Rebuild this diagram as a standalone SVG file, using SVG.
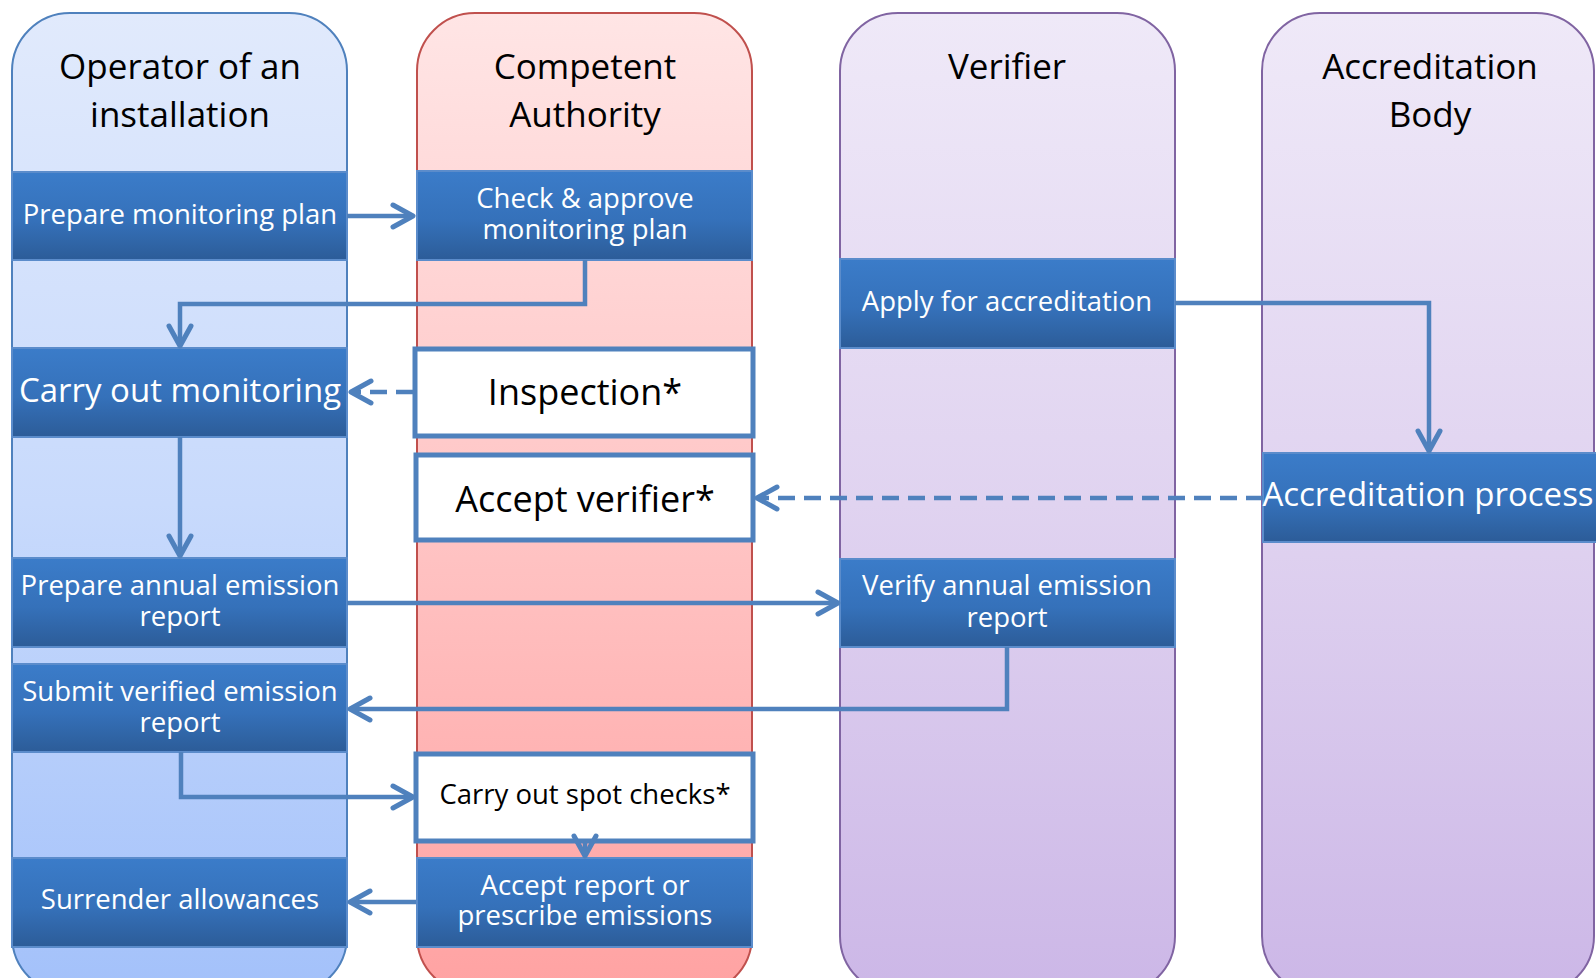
<svg xmlns="http://www.w3.org/2000/svg" width="1596" height="978" viewBox="0 0 1596 978">
  <defs>
    <linearGradient id="gLaneBlue" x1="0" y1="0" x2="0" y2="1">
      <stop offset="0" stop-color="#E1EAFC"/>
      <stop offset="0.5" stop-color="#C8DAFC"/>
      <stop offset="1" stop-color="#A3C1FA"/>
    </linearGradient>
    <linearGradient id="gLaneRed" x1="0" y1="0" x2="0" y2="1">
      <stop offset="0" stop-color="#FFE5E5"/>
      <stop offset="0.5" stop-color="#FFC6C6"/>
      <stop offset="1" stop-color="#FFA2A2"/>
    </linearGradient>
    <linearGradient id="gLanePurple" x1="0" y1="0" x2="0" y2="1">
      <stop offset="0" stop-color="#EFE9F8"/>
      <stop offset="0.5" stop-color="#E0D3F0"/>
      <stop offset="1" stop-color="#CCB7E7"/>
    </linearGradient>
    <linearGradient id="gBox" x1="0" y1="0" x2="0" y2="1">
      <stop offset="0" stop-color="#3B7CC9"/>
      <stop offset="0.55" stop-color="#3571BA"/>
      <stop offset="1" stop-color="#2C5C98"/>
    </linearGradient>
    <marker id="arrow" markerUnits="userSpaceOnUse" viewBox="-26 -16 32 32" refX="0" refY="0" markerWidth="32" markerHeight="32" orient="auto">
      <path d="M-20,-11 L0,0 L-20,11" fill="none" stroke="#4F81BD" stroke-width="5" stroke-linecap="round" stroke-linejoin="round" stroke-dasharray="none"/>
    </marker>
    <style>
      .lane-blue { fill: url(#gLaneBlue); stroke: #4F81BD; stroke-width: 2; }
      .lane-red { fill: url(#gLaneRed); stroke: #C0504D; stroke-width: 2; }
      .lane-purple { fill: url(#gLanePurple); stroke: #8064A2; stroke-width: 2; }
      .box { fill: url(#gBox); stroke: #5B8CCB; stroke-width: 2; }
      .wbox { fill: #FFFFFF; stroke: #4F81BD; stroke-width: 5; }
      .head { font-family: "Open Sans", "Noto Sans", sans-serif; font-size: 35px; fill: #000000; text-anchor: middle; }
      .btxt { font-family: "Open Sans", "Noto Sans", sans-serif; font-size: 27.5px; fill: #FFFFFF; text-anchor: middle; }
      .btxt-lg { font-family: "Open Sans", "Noto Sans", sans-serif; font-size: 33px; fill: #FFFFFF; text-anchor: middle; }
      .wtxt { font-family: "Open Sans", "Noto Sans", sans-serif; font-size: 36px; fill: #000000; text-anchor: middle; }
      .wtxt-sm { font-family: "Open Sans", "Noto Sans", sans-serif; font-size: 27.5px; fill: #000000; text-anchor: middle; }
      .conn { fill: none; stroke: #4F81BD; stroke-width: 4.5; marker-end: url(#arrow); }
      .dash { stroke-dasharray: 17 9; }
    </style>
  </defs>

  <!-- swimlanes -->
  <g id="lane-operator">
    <rect class="lane-blue" x="12" y="13" width="335" height="981" rx="58" ry="58"/>
    <text class="head"><tspan x="180" y="79">Operator of an</tspan><tspan x="180" dy="48">installation</tspan></text>
  </g>
  <g id="lane-authority">
    <rect class="lane-red" x="417" y="13" width="335" height="981" rx="58" ry="58"/>
    <text class="head"><tspan x="585" y="79">Competent</tspan><tspan x="585" dy="48">Authority</tspan></text>
  </g>
  <g id="lane-verifier">
    <rect class="lane-purple" x="840" y="13" width="335" height="981" rx="58" ry="58"/>
    <text class="head" x="1007" y="79">Verifier</text>
  </g>
  <g id="lane-accreditation">
    <rect class="lane-purple" x="1262" y="13" width="332" height="981" rx="58" ry="58"/>
    <text class="head"><tspan x="1430" y="79">Accreditation</tspan><tspan x="1430" dy="48">Body</tspan></text>
  </g>

  <!-- operator steps -->
  <g id="prepare-plan">
    <rect class="box" x="12" y="172" width="335" height="88"/>
    <text class="btxt" x="180" y="224">Prepare monitoring plan</text>
  </g>
  <g id="carry-out-monitoring">
    <rect class="box" x="12" y="348" width="335" height="89"/>
    <text class="btxt-lg" x="180" y="402">Carry out monitoring</text>
  </g>
  <g id="prepare-report">
    <rect class="box" x="12" y="558" width="335" height="89"/>
    <text class="btxt"><tspan x="180" y="595">Prepare annual emission</tspan><tspan x="180" dy="31">report</tspan></text>
  </g>
  <g id="submit-report">
    <rect class="box" x="12" y="664" width="335" height="88"/>
    <text class="btxt"><tspan x="180" y="701">Submit verified emission</tspan><tspan x="180" dy="31">report</tspan></text>
  </g>
  <g id="surrender">
    <rect class="box" x="12" y="858" width="335" height="89"/>
    <text class="btxt" x="180" y="909">Surrender allowances</text>
  </g>

  <!-- competent authority steps -->
  <g id="check-plan">
    <rect class="box" x="417" y="171" width="335" height="89"/>
    <text class="btxt"><tspan x="585" y="208">Check &amp; approve</tspan><tspan x="585" dy="31">monitoring plan</tspan></text>
  </g>
  <g id="inspection">
    <rect class="wbox" x="415" y="349" width="338" height="87"/>
    <text class="wtxt" x="585" y="405">Inspection*</text>
  </g>
  <g id="accept-verifier">
    <rect class="wbox" x="416" y="455" width="337" height="85"/>
    <text class="wtxt" x="585" y="512">Accept verifier*</text>
  </g>
  <g id="spot-checks">
    <rect class="wbox" x="416" y="754" width="337" height="87"/>
    <text class="wtxt-sm" x="585" y="804">Carry out spot checks*</text>
  </g>
  <g id="accept-report">
    <rect class="box" x="417" y="858" width="335" height="89"/>
    <text class="btxt"><tspan x="585" y="895">Accept report or</tspan><tspan x="585" dy="30">prescribe emissions</tspan></text>
  </g>

  <!-- verifier steps -->
  <g id="apply-accreditation">
    <rect class="box" x="840" y="259" width="335" height="89"/>
    <text class="btxt" x="1007" y="311">Apply for accreditation</text>
  </g>
  <g id="verify-report">
    <rect class="box" x="840" y="559" width="335" height="88"/>
    <text class="btxt"><tspan x="1007" y="595">Verify annual emission</tspan><tspan x="1007" dy="32">report</tspan></text>
  </g>

  <!-- accreditation body step -->
  <g id="accreditation-process">
    <rect class="box" x="1263" y="453" width="340" height="89"/>
    <text class="btxt-lg" x="1428" y="506">Accreditation process</text>
  </g>

  <!-- connectors -->
  <g id="connectors">
    <path class="conn" d="M347,216 H413"/>
    <path class="conn" d="M585,260 V304 H180 V346"/>
    <path class="conn dash" d="M413,392 H351"/>
    <path class="conn" d="M180,437 V556"/>
    <path class="conn" d="M347,603 H838"/>
    <path class="conn" d="M1175,303 H1429 V451"/>
    <path class="conn dash" d="M1263,498 H757"/>
    <path class="conn" d="M1007,647 V709 H350"/>
    <path class="conn" d="M181,752 V797 H413"/>
    <path class="conn" d="M585,842 V856"/>
    <path class="conn" d="M416,902 H350"/>
  </g>
</svg>
